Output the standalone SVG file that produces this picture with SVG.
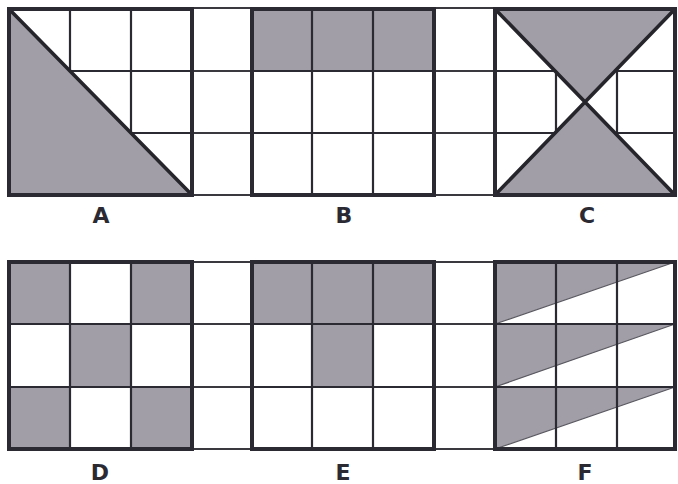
<svg xmlns="http://www.w3.org/2000/svg" width="678" height="484" viewBox="0 0 678 484">
<style>
.bg{fill:#ffffff}
.sh{fill:#a19ea7}
.g{stroke:#2b2a33;stroke-width:2.2;fill:none}
.t{stroke:#3a3940;stroke-width:2;fill:none}
.b{stroke:#2b2a33;stroke-width:4;fill:none}
.d{stroke:#26252c;stroke-width:3.6;fill:none;stroke-linecap:round}
.lbl{font-family:"DejaVu Sans","Liberation Sans",sans-serif;font-weight:bold;font-size:22px;fill:#2b2a33;text-anchor:middle}
</style>
<rect width="678" height="484" fill="#ffffff"/>
<g id="connectors">
  <!-- gap columns, top row -->
  <path class="t" d="M192 8H252M192 71H252M192 133H252M192 195H252M434 8H495M434 71H495M434 133H495M434 195H495"/>
  <!-- gap columns, bottom row -->
  <path class="t" d="M192 262H252M192 324H252M192 387H252M192 449H252M434 262H495M434 324H495M434 387H495M434 449H495"/>
</g>
<g id="A">
  <path class="g" d="M70 9V195M131 9V195M9 71H192M9 133H192"/>
  <polygon class="sh" points="9,9 192,195 9,195"/>
  <line class="d" x1="9" y1="9" x2="192" y2="195"/>
  <rect class="b" x="9" y="9" width="183" height="186"/>
  <text class="lbl" x="101" y="223">A</text>
</g>
<g id="B">
  <rect class="sh" x="252" y="9" width="182" height="62"/>
  <path class="g" d="M312 9V195M373 9V195M252 71H434M252 133H434"/>
  <rect class="b" x="252" y="9" width="182" height="186"/>
  <text class="lbl" x="344" y="223">B</text>
</g>
<g id="C">
  <path class="g" d="M556 9V195M617 9V195M495 71H675M495 133H675"/>
  <polygon class="sh" points="495,9 675,9 585,102"/>
  <polygon class="sh" points="585,102 675,195 495,195"/>
  <path class="d" d="M495 9L675 195M675 9L495 195"/>
  <rect class="b" x="495" y="9" width="180" height="186"/>
  <text class="lbl" x="587" y="223">C</text>
</g>
<g id="D">
  <rect class="sh" x="9" y="262" width="61" height="62"/>
  <rect class="sh" x="131" y="262" width="61" height="62"/>
  <rect class="sh" x="70" y="324" width="61" height="63"/>
  <rect class="sh" x="9" y="387" width="61" height="62"/>
  <rect class="sh" x="131" y="387" width="61" height="62"/>
  <path class="g" d="M70 262V449M131 262V449M9 324H192M9 387H192"/>
  <rect class="b" x="9" y="262" width="183" height="187"/>
  <text class="lbl" x="100" y="480">D</text>
</g>
<g id="E">
  <rect class="sh" x="252" y="262" width="182" height="62"/>
  <rect class="sh" x="312" y="324" width="61" height="63"/>
  <path class="g" d="M312 262V449M373 262V449M252 324H434M252 387H434"/>
  <rect class="b" x="252" y="262" width="182" height="187"/>
  <text class="lbl" x="343" y="480">E</text>
</g>
<g id="F">
  <polygon class="sh" points="495,262 675,262 495,324"/>
  <polygon class="sh" points="495,324 675,324 495,387"/>
  <polygon class="sh" points="495,387 675,387 495,449"/>
  <path stroke="#5a5860" stroke-width="1.2" fill="none" d="M495 324L675 262M495 387L675 324M495 449L675 387"/>
  <path class="g" d="M556 262V449M617 262V449M495 324H675M495 387H675"/>
  <rect class="b" x="495" y="262" width="180" height="187"/>
  <text class="lbl" x="585" y="480">F</text>
</g>
</svg>
